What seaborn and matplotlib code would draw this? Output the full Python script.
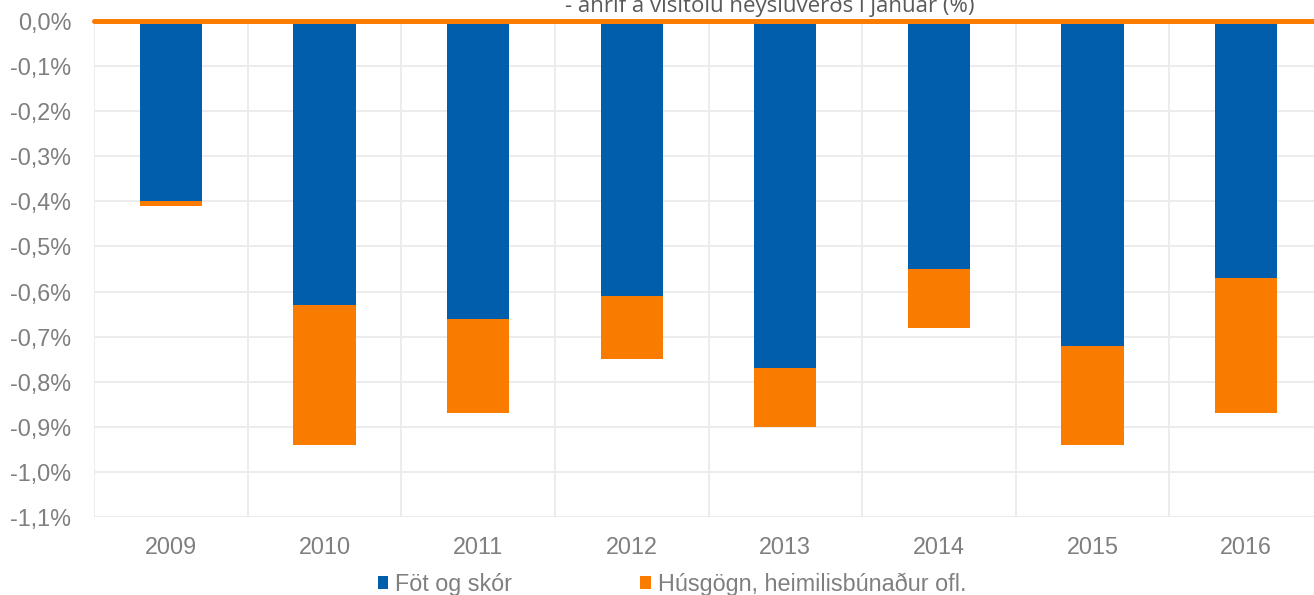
import numpy as np
import pandas as pd
import matplotlib
matplotlib.use("Agg")
import matplotlib.pyplot as plt
import seaborn as sns
from matplotlib.patches import Patch
from matplotlib.ticker import FixedLocator, FuncFormatter

years = ["2009", "2010", "2011", "2012", "2013", "2014", "2015", "2016"]
fot_og_skor = [-0.40, -0.63, -0.66, -0.61, -0.77, -0.55, -0.72, -0.57]
husgogn = [-0.01, -0.31, -0.21, -0.14, -0.13, -0.13, -0.22, -0.30]
series_names = ["Föt og skór", "Húsgögn, heimilisbúnaður ofl."]
title_text = "- áhrif á vísitölu neysluverðs í janúar (%)"

BLUE = "#005EAD"
ORANGE = "#F97C00"
GRAY = "#7F7F7F"
GRID = "#EBEBEB"

sns.set_theme(style="white")
plt.rcParams["font.family"] = ["Liberation Sans", "DejaVu Sans"]

df = pd.DataFrame({"year": years, "fot": fot_og_skor, "hus": husgogn})
df["total"] = df["fot"] + df["hus"]

fig = plt.figure(figsize=(13.14, 5.95), dpi=100)
ax = fig.add_axes([94.2 / 1314, 1 - 517 / 595, 1228.6 / 1314, 496 / 595])

sns.barplot(data=df, x="year", y="total", color=ORANGE, width=0.405,
            saturation=1, linewidth=0, ax=ax, zorder=2)
sns.barplot(data=df, x="year", y="fot", color=BLUE, width=0.405,
            saturation=1, linewidth=0, ax=ax, zorder=3)

ax.set_xlim(-0.5, len(years) - 0.5)
ax.set_ylim(-1.1, 0)
ax.set_xlabel("")
ax.set_ylabel("")

yt = np.round(np.arange(-1.1, 0.001, 0.1), 2)
ax.yaxis.set_major_locator(FixedLocator(yt))
ax.yaxis.set_major_formatter(FuncFormatter(
    lambda v, p: ("%.1f%%" % (0.0 if abs(v) < 1e-9 else v)).replace(".", ",")))
ax.xaxis.set_minor_locator(FixedLocator(np.arange(-0.5, len(years), 1.0)))

ax.grid(True, axis="y", which="major", color=GRID, linewidth=1.3, zorder=0)
ax.grid(True, axis="x", which="minor", color=GRID, linewidth=1.3, zorder=0)
ax.grid(False, axis="x", which="major")
ax.set_axisbelow(True)
for s in ax.spines.values():
    s.set_visible(False)

ax.tick_params(axis="y", length=0, pad=16.5, labelsize=16.8, labelcolor=GRAY)
ax.tick_params(axis="x", which="both", length=0, pad=14, labelsize=16.8, labelcolor=GRAY)

ax.axhline(0, color=ORANGE, linewidth=3.6, zorder=5, clip_on=False)

fig.text(770 / 1314, 1 - 12 / 595, title_text, ha="center", va="baseline",
         fontsize=16, color="#595959", family=["Open Sans", "DejaVu Sans"])

handles = [Patch(facecolor=BLUE, edgecolor="none"), Patch(facecolor=ORANGE, edgecolor="none")]
fig.legend(handles, series_names, loc="center", bbox_to_anchor=(672 / 1314, 1 - 584 / 595),
           ncol=2, frameon=False, fontsize=16.8, labelcolor=GRAY,
           handlelength=0.45, handleheight=0.45, handletextpad=0.3,
           columnspacing=5.5, borderaxespad=0, borderpad=0)

fig.savefig("out.png", dpi=100)
